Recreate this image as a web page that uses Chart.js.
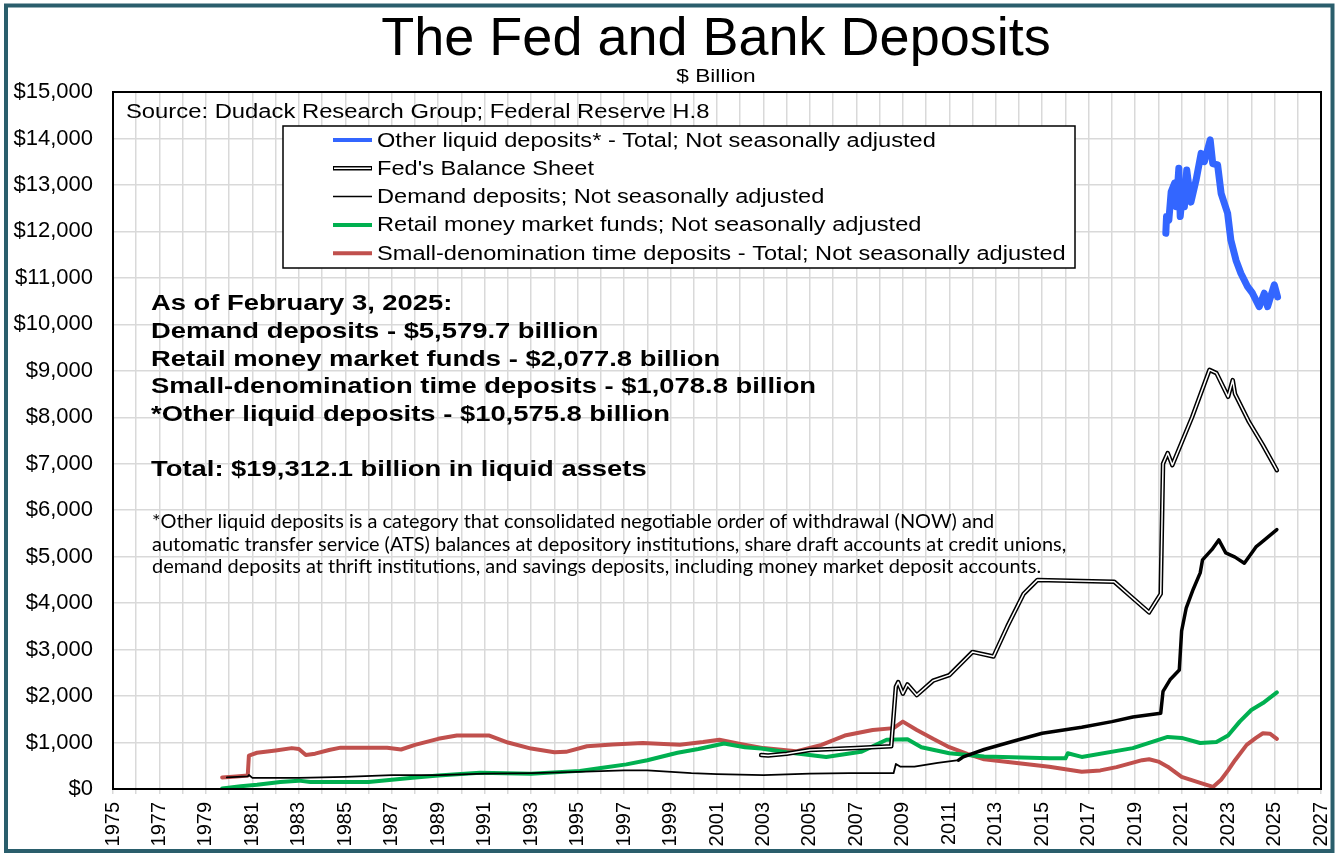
<!DOCTYPE html>
<html>
<head>
<meta charset="utf-8">
<script src="https://cdn.jsdelivr.net/npm/chart.js@4.4.1/dist/chart.umd.min.js"></script>
<style>
  html, body { margin: 0; padding: 0; background: #ffffff; }
  #wrap { width: 1338px; height: 855px; position: relative; }
</style>
</head>
<body>
<div id="wrap"><canvas id="depositsChart"></canvas></div>
<script>
// Series ($ billion, x = decimal year)
const otherYears = [2020.32, 2020.35, 2020.45, 2020.55, 2020.7, 2020.77, 2020.88, 2020.94, 2021.05, 2021.12, 2021.22, 2021.4, 2021.62, 2021.84, 2021.98, 2022.23, 2022.34, 2022.55, 2022.7, 2022.98, 2023.12, 2023.34, 2023.55, 2023.84, 2024.05, 2024.34, 2024.56, 2024.7, 2024.99, 2025.13];
const otherValues = [11960, 12320, 12240, 12850, 13040, 12530, 13360, 12320, 12890, 12530, 13320, 12630, 13100, 13680, 13500, 13970, 13460, 13430, 12820, 12390, 11810, 11380, 11100, 10810, 10670, 10380, 10670, 10380, 10850, 10590];

const fedYears = [2002.9, 2003.2, 2004, 2005, 2006, 2007, 2008.5, 2008.7, 2008.8, 2009.0, 2009.2, 2009.6, 2010.3, 2011, 2012, 2012.9, 2013.5, 2014.2, 2014.8, 2018.1, 2018.8, 2019.6, 2020.1, 2020.2, 2020.4, 2020.6, 2021.45, 2022.2, 2022.5, 2023.0, 2023.2, 2023.3, 2023.9, 2024.5, 2025.1];
const fedValues = [730, 720, 760, 840, 860, 880, 920, 2200, 2300, 2050, 2250, 2020, 2330, 2450, 2950, 2850, 3500, 4200, 4500, 4460, 4150, 3800, 4200, 7000, 7230, 6970, 8000, 9020, 8950, 8440, 8800, 8500, 7900, 7400, 6860];

const demandYears = [1979.9, 1980.8, 1980.85, 1981, 1983, 1985, 1987, 1989, 1991, 1993, 1995, 1997, 1998, 1999.9, 2001, 2003, 2005, 2006.7, 2008.6, 2008.7, 2008.9, 2009.5, 2010.5, 2011.4, 2011.6, 2012.5, 2013.9, 2015, 2016.7, 2018, 2018.9, 2020.1, 2020.2, 2020.5, 2020.9, 2021.0, 2021.2, 2021.5, 2021.8, 2021.9, 2022.3, 2022.6, 2022.9, 2023.3, 2023.7, 2024.2, 2024.4, 2025.1];
const demandValues = [250, 270, 300, 240, 240, 260, 300, 300, 330, 340, 370, 400, 400, 340, 320, 300, 330, 340, 340, 540, 480, 480, 560, 620, 690, 850, 1050, 1200, 1330, 1450, 1550, 1630, 2100, 2350, 2560, 3400, 3900, 4300, 4650, 4930, 5150, 5360, 5080, 4990, 4860, 5210, 5290, 5580];

const retailYears = [1979.7, 1980.5, 1981.2, 1982.2, 1983, 1983.5, 1986, 1987.9, 1989, 1990.8, 1993, 1995.1, 1996, 1997.1, 1998, 1999.3, 2000.2, 2001.3, 2002.2, 2002.9, 2004, 2005.7, 2007.2, 2008.3, 2009.2, 2009.8, 2011, 2012.5, 2015.3, 2016.0, 2016.1, 2016.7, 2018.9, 2020.4, 2021, 2021.8, 2022.5, 2023, 2023.5, 2024, 2024.5, 2025.1];
const retailValues = [10, 60, 90, 150, 180, 150, 150, 240, 290, 350, 330, 390, 450, 530, 620, 780, 860, 980, 900, 870, 790, 690, 800, 1060, 1070, 900, 770, 700, 660, 660, 770, 690, 880, 1120, 1100, 990, 1010, 1150, 1450, 1700, 1850, 2078];

const timeYears = [1979.7, 1980.3, 1980.8, 1980.85, 1981.2, 1982, 1982.7, 1983.0, 1983.3, 1983.7, 1984.3, 1984.8, 1986.8, 1987.4, 1988, 1989, 1989.8, 1991.2, 1992, 1993, 1994, 1994.5, 1995.4, 1996.5, 1997.8, 1999.4, 2000.4, 2001.1, 2002, 2003, 2004.4, 2005.5, 2006.5, 2007.7, 2008.6, 2009.0, 2009.6, 2010.3, 2011, 2011.8, 2012.5, 2013.9, 2015.3, 2016.7, 2017.5, 2018.2, 2019.3, 2019.6, 2020.0, 2020.4, 2021, 2021.8, 2022.35, 2022.7, 2023.0, 2023.3, 2023.8, 2024.2, 2024.5, 2024.8, 2025.1];
const timeValues = [250, 270, 290, 720, 780, 830, 880, 860, 730, 760, 840, 890, 890, 850, 950, 1080, 1150, 1150, 1000, 870, 790, 800, 920, 960, 990, 950, 1010, 1060, 970, 880, 810, 950, 1150, 1270, 1310, 1450, 1270, 1080, 900, 750, 640, 560, 480, 370, 400, 470, 620, 640, 590, 480, 260, 130, 45, 200, 400, 620, 950, 1100, 1200, 1190, 1079];

const yearTicks = { min: 1975, max: 2027 };
const valueTicks = { min: 0, max: 15000, step: 1000 };

const summaryLines = [
    'As of February 3, 2025:',
    'Demand deposits - $5,579.7 billion',
    'Retail money market funds - $2,077.8 billion',
    'Small-denomination time deposits - $1,078.8 billion',
    '*Other liquid deposits - $10,575.8 billion'
];
const totalLine = 'Total: $19,312.1 billion in liquid assets';
const noteLines = [
    '*Other liquid deposits is a category that consolidated negotiable order of withdrawal (NOW) and',
    'automatic transfer service (ATS) balances at depository institutions, share draft accounts at credit unions,',
    'demand deposits at thrift institutions, and savings deposits, including money market deposit accounts.'
];

function toPoints(xs, ys) {
    return xs.map((x, i) => ({ x, y: ys[i] }));
}

const ARIAL = "'Liberation Sans', Arial, sans-serif";

// text drawn wider than the font, like the stretched original
function wideText(ctx, text, x, y, sx) {
    ctx.save();
    ctx.translate(x, y);
    ctx.scale(sx, 1);
    ctx.fillText(text, 0, 0);
    ctx.restore();
}

// Draws frame, titles, legend box and text notes
const overlayPlugin = {
    id: 'overlay',
    beforeDraw(chart) {
        const ctx = chart.ctx;
        ctx.save();
        ctx.fillStyle = '#ffffff';
        ctx.fillRect(0, 0, chart.width, chart.height);
        ctx.restore();
    },
    afterDraw(chart) {
        const ctx = chart.ctx;
        const area = chart.chartArea;
        ctx.save();

        // plot border
        ctx.strokeStyle = '#000000';
        ctx.lineWidth = 2;
        ctx.strokeRect(area.left, area.top, area.right - area.left, area.bottom - area.top);

        // outer frame
        ctx.strokeStyle = '#2a5e6c';
        ctx.lineWidth = 4;
        ctx.strokeRect(6, 5.5, 1326.5, 845.5);

        // titles
        ctx.fillStyle = '#000000';
        ctx.textAlign = 'center';
        ctx.textBaseline = 'alphabetic';
        ctx.font = '54px ' + ARIAL;
        ctx.fillText('The Fed and Bank Deposits', 716, 55);
        ctx.font = '18px ' + ARIAL;
        wideText(ctx, '$ Billion', 716, 82, 1.26);

        // source
        ctx.textAlign = 'left';
        ctx.font = '20px ' + ARIAL;
        wideText(ctx, 'Source: Dudack Research Group; Federal Reserve H.8', 126, 118, 1.19);

        // legend box
        ctx.fillStyle = '#ffffff';
        ctx.fillRect(283, 126, 792, 142);
        ctx.strokeStyle = '#000000';
        ctx.lineWidth = 1.5;
        ctx.strokeRect(283, 126, 792, 142);
        const entries = chart.data.datasets.filter(d => d.legendOrder !== undefined)
            .sort((a, b) => a.legendOrder - b.legendOrder);
        ctx.font = '20px ' + ARIAL;
        ctx.textBaseline = 'middle';
        entries.forEach((ds, i) => {
            const y = 140 + i * 28.3;
            ctx.beginPath();
            ctx.moveTo(333, y);
            ctx.lineTo(372, y);
            ctx.strokeStyle = ds.borderColor;
            ctx.lineWidth = ds.legendWidth || ds.borderWidth;
            ctx.stroke();
            if (ds.innerColor) {
                ctx.beginPath();
                ctx.moveTo(334, y);
                ctx.lineTo(371, y);
                ctx.strokeStyle = ds.innerColor;
                ctx.lineWidth = 1.5;
                ctx.stroke();
            }
            ctx.fillStyle = '#000000';
            wideText(ctx, ds.label, 377, y + 1, 1.18);
        });

        // bold summary
        ctx.textBaseline = 'alphabetic';
        ctx.font = 'bold 22px ' + ARIAL;
        summaryLines.forEach((t, i) => wideText(ctx, t, 151, 310 + i * 27.8, 1.245));
        wideText(ctx, totalLine, 151, 476, 1.245);

        // footnote
        ctx.font = "16px Lato, 'Open Sans', sans-serif";
        const w = ctx.measureText(noteLines[0]).width;
        const size = 16 * 843 / w;
        ctx.font = size.toFixed(2) + "px Lato, 'Open Sans', sans-serif";
        noteLines.forEach((t, i) => ctx.fillText(t, 152, 528 + i * 22.5));

        ctx.restore();
    }
};

const ctx = document.getElementById('depositsChart');
new Chart(ctx, {
    type: 'line',
    data: {
        datasets: [
            {
                label: 'Other liquid deposits* - Total; Not seasonally adjusted',
                data: toPoints(otherYears, otherValues),
                borderColor: '#3366ff',
                borderWidth: 7,
                legendWidth: 4,
                legendOrder: 0
            },
            {
                label: 'Fed inner',
                data: toPoints(fedYears, fedValues),
                borderColor: '#ffffff',
                borderWidth: 1.5
            },
            {
                label: "Fed's Balance Sheet",
                data: toPoints(fedYears, fedValues),
                borderColor: '#000000',
                innerColor: '#ffffff',
                borderWidth: 4.5,
                legendOrder: 1
            },
            {
                label: 'Demand deposits; Not seasonally adjusted',
                data: toPoints(demandYears, demandValues),
                borderColor: '#000000',
                borderWidth: 1.8,
                legendWidth: 1.5,
                segment: {
                    borderWidth: c => (c.p0.parsed.x >= 2011 ? 3.5 : 1.8)
                },
                legendOrder: 2
            },
            {
                label: 'Retail money market funds; Not seasonally adjusted',
                data: toPoints(retailYears, retailValues),
                borderColor: '#00b050',
                borderWidth: 4,
                legendOrder: 3
            },
            {
                label: 'Small-denomination time deposits - Total; Not seasonally adjusted',
                data: toPoints(timeYears, timeValues),
                borderColor: '#c0504d',
                borderWidth: 4,
                legendOrder: 4
            }
        ]
    },
    options: {
        responsive: true,
        maintainAspectRatio: false,
        animation: false,
        devicePixelRatio: 1,
        layout: { padding: { top: 92, left: 0, right: 17, bottom: 0 } },
        elements: {
            point: { radius: 0 },
            line: { tension: 0, borderJoinStyle: 'round', borderCapStyle: 'round' }
        },
        plugins: {
            legend: { display: false },
            title: { display: false },
            tooltip: { enabled: false }
        },
        scales: {
            x: {
                type: 'linear',
                min: yearTicks.min,
                max: yearTicks.max,
                afterFit: scale => {
                    scale.height = 66;
                    scale.paddingLeft = 0;
                    scale.paddingRight = 0;
                },
                afterBuildTicks: scale => {
                    const t = [];
                    for (let v = yearTicks.min; v <= yearTicks.max; v++) t.push({ value: v });
                    scale.ticks = t;
                },
                ticks: {
                    autoSkip: false,
                    minRotation: 90,
                    maxRotation: 90,
                    padding: 8,
                    color: '#000000',
                    font: { family: ARIAL, size: 20 },
                    callback: v => ((v - yearTicks.min) % 2 === 0 ? String(v) : '')
                },
                grid: { color: '#d9d9d9', lineWidth: 1.5, tickLength: 5 },
                border: { display: true, color: '#000000', width: 2 }
            },
            y: {
                min: valueTicks.min,
                max: valueTicks.max,
                afterFit: scale => {
                    scale.width = 113;
                    scale.paddingTop = 0;
                    scale.paddingBottom = 0;
                },
                ticks: {
                    stepSize: valueTicks.step,
                    padding: 20,
                    color: '#000000',
                    font: { family: ARIAL, size: 22 },
                    callback: v => '$' + v.toLocaleString('en-US')
                },
                grid: { color: '#d9d9d9', lineWidth: 1.5, drawTicks: false },
                border: { display: true, color: '#000000', width: 2 }
            }
        }
    },
    plugins: [overlayPlugin]
});
</script>
</body>
</html>
